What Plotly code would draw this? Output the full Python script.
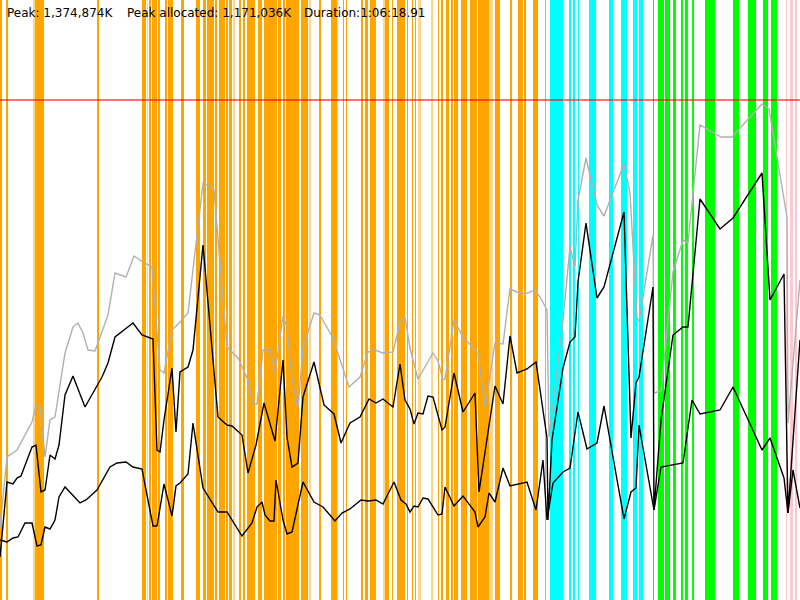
import plotly.graph_objects as go

# time axis in screen-ish units (0..800), memory as height above baseline (0..600)
# GC / phase bands: (start, end) pairs
orange_bands = [(0, 2), (6, 8), (35, 44), (97, 98.5), (142, 146), (149, 151), (152, 157),
                (157.5, 160), (165, 167), (167.5, 173), (181, 184), (196, 200), (202.5, 206),
                (207, 214), (215, 217), (219, 225), (226, 228), (229, 230), (230.5, 232),
                (239, 241), (243, 245), (247, 255), (258, 262), (264, 277), (278, 281),
                (283, 285), (285.5, 299), (301, 308), (319, 321), (331, 337), (343, 344),
                (346, 347), (361, 363), (365, 368), (370, 376), (385, 389), (392, 393),
                (397, 405), (407, 408), (412, 413), (415, 416), (438, 439), (441, 443),
                (446, 449), (451, 453), (453.5, 458), (461, 467), (470, 477), (477.5, 489),
                (495, 500), (510, 512), (518, 523), (523.5, 526), (533, 538)]
light_orange_bands = [(33, 35), (147, 148), (233, 235), (309, 311), (337, 338), (383, 385),
                      (418, 421), (431, 433), (489, 493)]
cyan_bands = [(545, 546), (550, 563), (569, 571), (573, 575), (578, 579), (589, 596),
              (609, 613), (621, 627), (633, 637), (639, 643)]
green_bands = [(653, 654), (658, 664), (665, 670), (673, 676), (681, 683), (685, 688),
               (692, 694), (705, 715), (733, 739), (748, 756), (763, 768), (771, 777)]
pink_bands = [(786, 787), (790, 793), (795, 797)]

# committed (grey)
grey_t = [0, 7, 17, 32, 36, 40, 45, 50, 55, 65, 73, 78, 83, 88, 95, 108, 115, 126, 134, 143,
          152, 160, 164, 172, 180, 188, 203, 207, 214, 227, 238, 248, 253, 257, 263, 270, 275,
          283, 287, 292, 298, 303, 314, 320, 333, 349, 360, 368, 375, 383, 393, 400, 405, 410,
          418, 433, 438, 443, 445, 454, 463, 478, 485, 495, 503, 510, 517, 525, 535, 540, 547,
          549, 562, 570, 575, 578, 586, 597, 604, 624, 630, 637, 639, 653, 654, 661, 673, 683,
          688, 700, 721, 732, 762, 769, 787, 788, 800]
grey_mem = [72, 143, 150, 178, 195, 192, 143, 180, 183, 247, 273, 277, 267, 250, 249, 285, 327,
            323, 344, 338, 333, 230, 227, 270, 278, 287, 417, 415, 410, 253, 242, 220, 196, 196,
            250, 250, 227, 284, 273, 220, 192, 252, 287, 285, 262, 213, 223, 248, 250, 247, 248,
            277, 283, 252, 221, 247, 239, 220, 221, 280, 263, 247, 192, 257, 256, 311, 308, 306,
            310, 303, 290, 163, 270, 353, 333, 400, 442, 395, 384, 436, 407, 282, 278, 365, 207,
            209, 328, 360, 357, 475, 463, 463, 496, 491, 383, 177, 320]

# used (black, upper)
used_t = [0, 7, 13, 17, 21, 32, 36, 41, 45, 50, 55, 59, 65, 73, 85, 97, 102, 108, 115, 133,
          142, 153, 157, 160, 164, 172, 176, 180, 188, 193, 203, 218, 227, 232, 242, 248, 256,
          264, 272, 275, 283, 287, 292, 298, 303, 314, 324, 334, 341, 350, 360, 369, 376, 383,
          393, 400, 405, 410, 414, 418, 423, 428, 433, 442, 445, 454, 463, 475, 479, 488, 495,
          503, 510, 517, 527, 536, 547, 548, 552, 563, 570, 575, 578, 586, 597, 604, 624, 631,
          636, 639, 653, 654, 661, 673, 683, 688, 700, 720, 733, 762, 770, 784, 788, 800]
used_mem = [43, 118, 116, 122, 124, 153, 155, 108, 110, 145, 141, 155, 205, 224, 193, 215, 223,
            237, 263, 277, 265, 261, 150, 148, 180, 232, 168, 228, 233, 250, 355, 183, 175, 174,
            165, 127, 155, 197, 170, 159, 240, 163, 133, 137, 203, 238, 195, 186, 157, 177, 183,
            201, 197, 201, 193, 236, 200, 191, 176, 187, 186, 204, 203, 170, 173, 227, 188, 207,
            108, 165, 214, 196, 264, 227, 231, 238, 162, 80, 160, 232, 258, 263, 318, 377, 302,
            313, 388, 162, 217, 223, 313, 90, 180, 265, 273, 273, 401, 371, 382, 427, 300, 326,
            87, 260]

# live after GC (black, lower)
live_t = [0, 7, 13, 18, 25, 32, 37, 41, 45, 50, 55, 59, 65, 80, 86, 97, 110, 117, 126, 133,
          142, 153, 157, 164, 172, 176, 180, 188, 193, 203, 218, 227, 242, 252, 257, 262, 265,
          270, 274, 276, 283, 287, 292, 303, 314, 323, 335, 342, 350, 361, 368, 376, 383, 394,
          401, 406, 410, 414, 418, 423, 428, 438, 442, 445, 454, 463, 475, 478, 485, 489, 495,
          503, 510, 527, 536, 543, 547, 553, 563, 570, 578, 587, 597, 604, 624, 631, 636, 639,
          654, 661, 683, 692, 700, 720, 733, 762, 770, 784, 788, 793, 800]
live_mem = [60, 58, 62, 63, 77, 77, 54, 55, 73, 71, 80, 103, 113, 97, 100, 110, 133, 137, 138,
            133, 131, 74, 74, 116, 84, 114, 117, 126, 177, 112, 88, 88, 64, 77, 93, 98, 85, 79,
            79, 120, 80, 66, 68, 118, 98, 93, 79, 87, 91, 100, 99, 100, 96, 118, 100, 96, 88, 94,
            93, 102, 101, 85, 86, 113, 94, 104, 88, 73, 83, 107, 98, 132, 114, 118, 90, 140, 80,
            117, 128, 132, 188, 151, 157, 194, 81, 108, 112, 175, 90, 133, 137, 200, 186, 190,
            213, 150, 162, 122, 87, 130, 92]

peak_level = 500
labels = ["Peak: 1,374,874K", "Peak allocated: 1,171,036K", "Duration:1:06:18.91"]
label_x = [5, 125, 302]

fig = go.Figure()


def add_bands(bands, color):
    fig.add_trace(go.Bar(
        x=[(s + e) / 2 for s, e in bands],
        width=[e - s for s, e in bands],
        y=[600] * len(bands),
        marker=dict(color=color, line=dict(width=0)),
        hoverinfo="skip",
        showlegend=False,
    ))


add_bands(orange_bands, "#FFA500")
add_bands(light_orange_bands, "rgba(255,165,0,0.45)")
add_bands(cyan_bands, "#00FFFF")
add_bands(green_bands, "#00FF00")
add_bands(pink_bands, "#FFC8D0")

fig.add_trace(go.Scatter(x=grey_t, y=grey_mem, mode="lines",
                         line=dict(color="#B0B0B0", width=1.4), showlegend=False))
fig.add_trace(go.Scatter(x=used_t, y=used_mem, mode="lines",
                         line=dict(color="black", width=1.4), showlegend=False))
fig.add_trace(go.Scatter(x=live_t, y=live_mem, mode="lines",
                         line=dict(color="black", width=1.4), showlegend=False))

fig.add_hline(y=peak_level, line=dict(color="rgba(255,0,0,0.55)", width=2))

for tx, lx in zip(labels, label_x):
    fig.add_annotation(x=lx, y=587, text=tx, showarrow=False, xanchor="left",
                       yanchor="middle", font=dict(family="DejaVu Sans", size=12, color="black"))

fig.update_layout(
    width=800, height=600,
    margin=dict(l=0, r=0, t=0, b=0),
    plot_bgcolor="white", paper_bgcolor="white",
    barmode="overlay", bargap=0,
)
fig.update_xaxes(range=[0, 800], visible=False, showgrid=False, zeroline=False)
fig.update_yaxes(range=[0, 600], visible=False, showgrid=False, zeroline=False)

# drop the browser's default page margin so the chart fills the window
fig.write_html("out.html",
               config={"displayModeBar": False},
               post_script="document.body.style.margin='0';document.body.style.overflow='hidden';")
